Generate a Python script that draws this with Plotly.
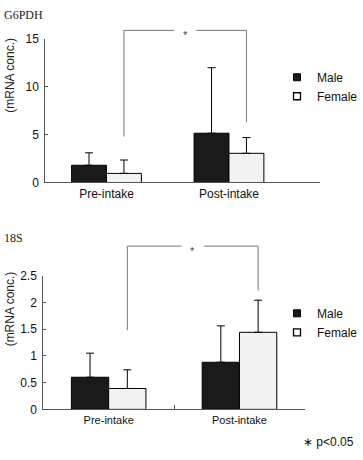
import plotly.graph_objects as go

categories = ["Pre-intake", "Post-intake"]
series = ["Male", "Female"]

g6_male = [1.8, 5.15]
g6_male_err = [1.3, 6.85]
g6_female = [0.95, 3.05]
g6_female_err = [1.4, 1.65]
g6_ticks = [0, 5, 10, 15]

s18_male = [0.6, 0.88]
s18_male_err = [0.45, 0.68]
s18_female = [0.39, 1.44]
s18_female_err = [0.35, 0.6]
s18_ticks = [0, 0.5, 1, 1.5, 2, 2.5]

# significance brackets: (left bottom, top, right bottom) in data units
g6_bracket = [4.8, 15.9, 6.3]
s18_bracket = [1.48, 3.05, 2.22]

MALE_C = "#1a1a1a"
FEMALE_C = "#f2f2f2"
AXIS_C = "#555555"
BR_C = "#777777"
FONT = "Liberation Sans"

W, H = 363, 460
BARGAP = 0.43
OFF = (1 - BARGAP) / 4  # centre offset of each bar in a group

fig = go.Figure()

def add_panel(male, male_err, female, female_err, xa, ya, legend):
    fig.add_trace(go.Bar(x=categories, y=male, name="Male", marker=dict(color=MALE_C, line=dict(color="#000", width=1)),
                         error_y=dict(type="data", array=male_err, arrayminus=[0]*len(male), symmetric=False,
                                      color="#000", thickness=1, width=4),
                         xaxis=xa, yaxis=ya, showlegend=False))
    fig.add_trace(go.Bar(x=categories, y=female, name="Female", marker=dict(color=FEMALE_C, line=dict(color="#000", width=1)),
                         error_y=dict(type="data", array=female_err, arrayminus=[0]*len(female), symmetric=False,
                                      color="#000", thickness=1, width=4),
                         xaxis=xa, yaxis=ya, showlegend=False))
    fig.add_trace(go.Scatter(x=[None], y=[None], mode="markers", name="Male",
                             marker=dict(symbol="square", size=7, color=MALE_C, line=dict(color="#000", width=1)),
                             xaxis=xa, yaxis=ya, legend=legend))
    fig.add_trace(go.Scatter(x=[None], y=[None], mode="markers", name="Female",
                             marker=dict(symbol="square", size=7, color="#ffffff", line=dict(color="#000", width=1.3)),
                             xaxis=xa, yaxis=ya, legend=legend))

add_panel(g6_male, g6_male_err, g6_female, g6_female_err, "x", "y", "legend")
add_panel(s18_male, s18_male_err, s18_female, s18_female_err, "x2", "y2", "legend2")

def bracket(xa, ya, br, ymax, gap_half):
    xl, xr = 0 + OFF, 1 + OFF
    yb_l, yt, yb_r = [v / ymax for v in br]
    xm = (xl + xr) / 2
    segs = [(xl, yb_l, xl, yt), (xl, yt, xm - gap_half, yt), (xm + gap_half, yt, xr, yt), (xr, yt, xr, yb_r)]
    for x0, y0, x1, y1 in segs:
        fig.add_shape(type="line", xref=xa, yref=ya + " domain", x0=x0, y0=y0, x1=x1, y1=y1,
                      line=dict(color=BR_C, width=1))
    fig.add_annotation(x=xm, y=yt, xref=xa, yref=ya + " domain", text="*", showarrow=False,
                       xanchor="center", yanchor="middle",
                       font=dict(family=FONT, size=11, color="#444"), yshift=-5)

bracket("x", "y", g6_bracket, g6_ticks[-1], 0.09)
bracket("x2", "y2", s18_bracket, s18_ticks[-1], 0.085)

def px(x):
    return x / W
def py(y):
    return 1 - y / H

axis_common = dict(showline=True, linecolor=AXIS_C, linewidth=1, showgrid=False, zeroline=False,
                   tickfont=dict(family=FONT, size=12, color="#111"))

fig.update_layout(
    width=W, height=H, margin=dict(l=0, r=0, t=0, b=0),
    paper_bgcolor="white", plot_bgcolor="white",
    barmode="group", bargap=BARGAP, bargroupgap=0,
    xaxis=dict(domain=[px(46), px(325)], range=[-0.5, 1.74], anchor="y", ticks="",
               **axis_common),
    yaxis=dict(domain=[py(181), py(33)], range=[0, 15], tickvals=g6_ticks, anchor="x",
               ticks="inside", ticklen=3, tickcolor=AXIS_C, ticklabelstandoff=3, **axis_common),
    xaxis2=dict(domain=[px(44), px(310)], range=[-0.5, 1.5], anchor="y2", ticks="inside",
                tickson="boundaries", ticklen=4, tickcolor=AXIS_C,
                **{**axis_common, "tickfont": dict(family=FONT, size=11, color="#111")}),
    yaxis2=dict(domain=[py(415), py(277)], range=[0, 2.5], tickvals=s18_ticks, anchor="x2",
                ticks="inside", ticklen=3, tickcolor=AXIS_C, ticklabelstandoff=3, **axis_common),
    legend=dict(x=px(282), y=py(57.5), xanchor="left", yanchor="top", font=dict(family=FONT, size=12, color="#111"),
                bgcolor="rgba(0,0,0,0)", itemwidth=30, tracegroupgap=0),
    legend2=dict(x=px(282), y=py(301), xanchor="left", yanchor="top", font=dict(family=FONT, size=12, color="#111"),
                 bgcolor="rgba(0,0,0,0)", itemwidth=30, tracegroupgap=0),
)

fig.add_annotation(x=px(2), y=py(8), xref="paper", yref="paper", text="G6PDH", showarrow=False,
                   xanchor="left", yanchor="middle", font=dict(family="Liberation Serif", size=12, color="#222"))
fig.add_annotation(x=px(2), y=py(238), xref="paper", yref="paper", text="18S", showarrow=False,
                   xanchor="left", yanchor="middle", font=dict(family="Liberation Serif", size=12, color="#222"))
fig.add_annotation(x=px(10), y=py(70), xref="paper", yref="paper", text="(mRNA conc.)", showarrow=False,
                   xanchor="center", yanchor="middle",
                   textangle=-90, font=dict(family=FONT, size=12, color="#222"))
fig.add_annotation(x=px(10), y=py(311), xref="paper", yref="paper", text="(mRNA conc.)", showarrow=False,
                   xanchor="center", yanchor="middle",
                   textangle=-90, font=dict(family=FONT, size=12, color="#222"))
fig.add_annotation(x=px(362), y=py(449), xref="paper", yref="paper", text="∗ p<0.05", showarrow=False,
                   xanchor="right", yanchor="middle", font=dict(family=FONT, size=12, color="#111"))

fig.write_html("out.html", config={"displayModeBar": False},
               post_script="document.body.style.margin='0';document.body.style.overflow='hidden';")
